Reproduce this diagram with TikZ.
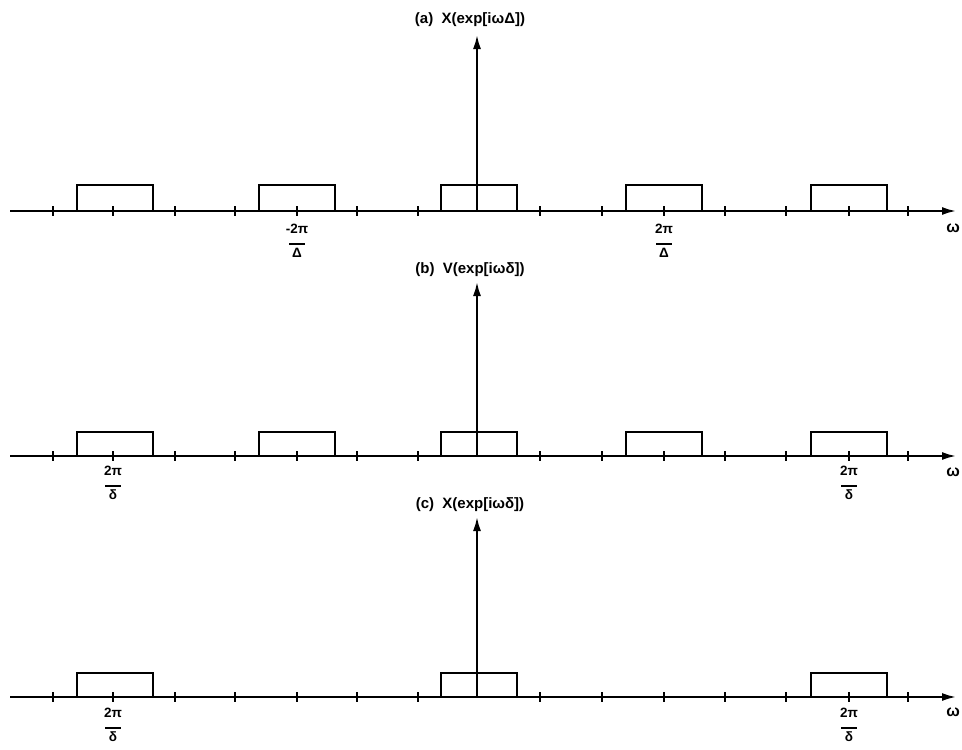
\documentclass[tikz,border=0pt]{standalone}
\usepackage{fontspec}
\setmainfont{Liberation Sans}
\usetikzlibrary{arrows.meta}
\begin{document}
\begin{tikzpicture}[x=1pt,y=-1pt,
 axisline/.style={line width=2pt,-{Latex[length=14pt,width=8pt]}},
 tickline/.style={line width=1.6pt},
 pulse/.style={line width=2.2pt},
 lab/.style={font=\bfseries\fontsize{15}{17}\selectfont, inner sep=0pt},
 omlab/.style={font=\bfseries\fontsize{16}{18}\selectfont, inner sep=0pt},
 fraclab/.style={font=\bfseries\fontsize{13.5}{14}\selectfont, align=center, inner sep=0pt},
]
\useasboundingbox[fill=white] (0,0) rectangle (962,750);
\def\ticklist{53,113,175,235,297,357,418,540,602,664,725,786,849,908}
% ---------- panel (a)
\coordinate (aL) at (10,211); \coordinate (aR) at (956,211);
\coordinate (aO) at (477,211); \coordinate (aT) at (477,35);
\draw[axisline] (aL) -- (aR);
\draw[axisline] (aO) -- (aT);
\foreach \t in \ticklist \draw[tickline] (\t,206) -- (\t,216);
\foreach \c in {115,297,479,664,849} \draw[pulse] (\c-38,211) -- ++(0,-26) -- ++(76,0) -- ++(0,26);
\node[lab] (atitle) at (470,20) {(a)\ \ X(exp[iωΔ])};
\node[omlab] (aw) at (953,228) {ω};
\node[fraclab] (af1) at (297,241) {-2π\\[-3pt]\rule{16pt}{1.8pt}\\[-1pt]Δ};
\node[fraclab] (af2) at (664,241) {2π\\[-3pt]\rule{16pt}{1.8pt}\\[-1pt]Δ};
% ---------- panel (b)
\coordinate (bL) at (10,456); \coordinate (bR) at (956,456);
\coordinate (bO) at (477,456); \coordinate (bT) at (477,282);
\draw[axisline] (bL) -- (bR);
\draw[axisline] (bO) -- (bT);
\foreach \t in \ticklist \draw[tickline] (\t,451) -- (\t,461);
\foreach \c in {115,297,479,664,849} \draw[pulse] (\c-38,456) -- ++(0,-24) -- ++(76,0) -- ++(0,24);
\node[lab] (btitle) at (470,270) {(b)\ \ V(exp[iωδ])};
\node[omlab] (bw) at (953,472) {ω};
\node[fraclab] (bf1) at (113,483) {2π\\[-3pt]\rule{16pt}{1.8pt}\\[-1pt]δ};
\node[fraclab] (bf2) at (849,483) {2π\\[-3pt]\rule{16pt}{1.8pt}\\[-1pt]δ};
% ---------- panel (c)
\coordinate (cL) at (10,697); \coordinate (cR) at (956,697);
\coordinate (cO) at (477,697); \coordinate (cT) at (477,517);
\draw[axisline] (cL) -- (cR);
\draw[axisline] (cO) -- (cT);
\foreach \t in \ticklist \draw[tickline] (\t,692) -- (\t,702);
\foreach \c in {115,479,849} \draw[pulse] (\c-38,697) -- ++(0,-24) -- ++(76,0) -- ++(0,24);
\node[lab] (ctitle) at (470,505) {(c)\ \ X(exp[iωδ])};
\node[omlab] (cw) at (953,712) {ω};
\node[fraclab] (cf1) at (113,725) {2π\\[-3pt]\rule{16pt}{1.8pt}\\[-1pt]δ};
\node[fraclab] (cf2) at (849,725) {2π\\[-3pt]\rule{16pt}{1.8pt}\\[-1pt]δ};
\end{tikzpicture}
\end{document}
